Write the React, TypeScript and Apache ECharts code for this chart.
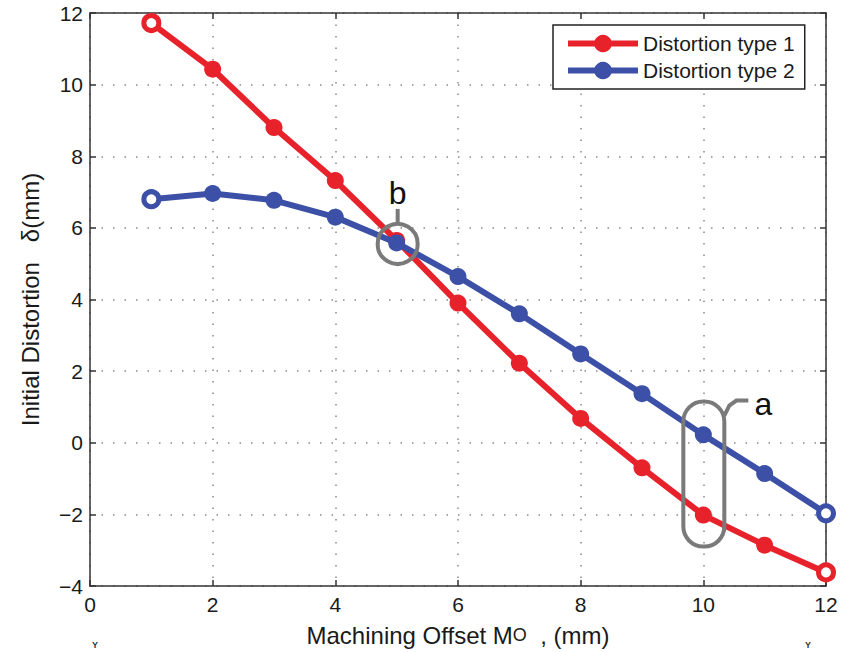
import React, { useEffect, useRef } from "react";
import * as echarts from "echarts";

const offsets = [1, 2, 3, 4, 5, 6, 7, 8, 9, 10, 11, 12];
const type1 = [11.72, 10.43, 8.8, 7.32, 5.65, 3.9, 2.22, 0.68, -0.7, -2.02, -2.86, -3.62];
const type2 = [6.8, 6.96, 6.77, 6.3, 5.58, 4.64, 3.6, 2.48, 1.37, 0.22, -0.86, -1.97];
const seriesNames = ["Distortion type 1", "Distortion type 2"];
const RED = "#e8222b";
const BLUE = "#3b50a6";

function toData(vals: number[], color: string) {
  return offsets.map((x, i) => {
    const hollow = i === 0 || i === offsets.length - 1;
    return hollow
      ? { value: [x, vals[i]], symbolSize: 15, itemStyle: { color: "#ffffff", borderColor: color, borderWidth: 5 } }
      : { value: [x, vals[i]] };
  });
}

export default function App() {
  const ref = useRef<HTMLDivElement>(null);
  useEffect(() => {
    if (!ref.current) return;
    const chart = echarts.init(ref.current, null, { renderer: "svg" });
    const font = "Liberation Sans, Arial, sans-serif";
    const minus = (v: number) => String(v).replace("-", "\u2212");
    const axisLine = { show: true, onZero: false, lineStyle: { color: "#333", width: 1.5 } };
    const tickIn = { show: true, inside: true, length: 6, lineStyle: { color: "#333", width: 1.5 } };
    chart.setOption({
      animation: false,
      backgroundColor: "#ffffff",
      textStyle: { fontFamily: font },
      grid: { left: 90, right: 17, top: 13, bottom: 65, show: false },
      legend: {
        orient: "vertical",
        left: 553,
        top: 25,
        data: seriesNames,
        backgroundColor: "#ffffff",
        borderColor: "#222",
        borderWidth: 1.5,
        borderRadius: 0,
        padding: [8, 10, 8, 12],
        itemWidth: 70,
        itemHeight: 22,
        itemGap: 6,
        lineStyle: { width: 6 },
        textStyle: { fontSize: 21, color: "#1a1a1a", fontFamily: font },
      },
      xAxis: [
        {
          type: "value",
          min: 0,
          max: 12,
          interval: 2,
          position: "bottom",
          axisLine,
          axisTick: tickIn,
          axisLabel: { fontSize: 21, color: "#1a1a1a", margin: 8, formatter: minus },
          splitLine: { show: true, lineStyle: { color: "#8a8a8a", type: [1.5, 10], width: 1.5 } },
          name: "{a|Machining Offset M}{b|O}{a|  , (mm)}",
          nameLocation: "middle",
          nameGap: 37,
          nameTextStyle: {
            rich: {
              a: { fontSize: 24, color: "#1a1a1a", fontFamily: font },
              b: { fontSize: 18, color: "#1a1a1a", fontFamily: font },
            },
          },
        },
        {
          type: "value",
          min: 0,
          max: 12,
          interval: 2,
          position: "top",
          axisLine,
          axisTick: tickIn,
          axisLabel: { show: false },
          splitLine: { show: false },
        },
      ],
      yAxis: [
        {
          type: "value",
          min: -4,
          max: 12,
          interval: 2,
          position: "left",
          axisLine,
          axisTick: tickIn,
          axisLabel: { fontSize: 21, color: "#1a1a1a", margin: 7, formatter: minus },
          splitLine: { show: true, lineStyle: { color: "#8a8a8a", type: [1.5, 10], width: 1.5 } },
          name: "Initial Distortion   \u03b4(mm)",
          nameLocation: "middle",
          nameGap: 48,
          nameTextStyle: { fontSize: 24, color: "#1a1a1a", fontFamily: font },
        },
        {
          type: "value",
          min: -4,
          max: 12,
          interval: 2,
          position: "right",
          axisLine,
          axisTick: tickIn,
          axisLabel: { show: false },
          splitLine: { show: false },
        },
      ],
      series: [
        {
          name: seriesNames[0],
          type: "line",
          data: toData(type1, RED),
          symbol: "circle",
          symbolSize: 17,
          lineStyle: { color: RED, width: 6 },
          itemStyle: { color: RED },
          z: 2,
        },
        {
          name: seriesNames[1],
          type: "line",
          data: toData(type2, BLUE),
          symbol: "circle",
          symbolSize: 17,
          lineStyle: { color: BLUE, width: 6 },
          itemStyle: { color: BLUE },
          z: 3,
        },
      ],
    });

    const pb = chart.convertToPixel({ gridIndex: 0 }, [5, type2[4]]) as number[];
    const aTop = chart.convertToPixel({ gridIndex: 0 }, [10, 1.15]) as number[];
    const aBot = chart.convertToPixel({ gridIndex: 0 }, [10, -2.9]) as number[];
    const gray = "#7a7a7a";
    const rx = aTop[0] - 20;
    const rw = 41;
    chart.setOption({
      graphic: [
        { type: "circle", shape: { cx: pb[0] + 1, cy: pb[1] + 1, r: 20 }, style: { fill: "none", stroke: gray, lineWidth: 4 }, z: 10 },
        { type: "line", shape: { x1: pb[0] + 1, y1: pb[1] - 19, x2: pb[0] + 1, y2: pb[1] - 34 }, style: { stroke: gray, lineWidth: 4 }, z: 10 },
        { type: "text", x: pb[0] + 1, y: pb[1] - 50, style: { text: "b", fontSize: 32, fill: "#111", align: "center", verticalAlign: "middle", fontFamily: font }, z: 10 },
        { type: "rect", shape: { x: rx, y: aTop[1], width: rw, height: aBot[1] - aTop[1], r: 20 }, style: { fill: "none", stroke: gray, lineWidth: 4 }, z: 10 },
        { type: "polyline", shape: { points: [[rx + rw, aTop[1] + 14], [rx + rw + 5, aTop[1] + 4], [rx + rw + 12, aTop[1] - 1], [rx + rw + 24, aTop[1] - 1]] }, style: { stroke: gray, lineWidth: 4, fill: "none" }, z: 10 },
        { type: "text", x: rx + rw + 39, y: aTop[1] + 2, style: { text: "a", fontSize: 32, fill: "#111", align: "center", verticalAlign: "middle", fontFamily: font }, z: 10 },
        { type: "text", x: 95, y: 645, style: { text: "Y", fontSize: 9, fill: "#333", align: "center", verticalAlign: "middle", fontFamily: font, fontWeight: "bold" } },
        { type: "text", x: 808, y: 645, style: { text: "Y", fontSize: 9, fill: "#333", align: "center", verticalAlign: "middle", fontFamily: font, fontWeight: "bold" } },
      ],
    });
    return () => chart.dispose();
  }, []);
  return <div ref={ref} style={{ position: "fixed", left: 0, top: 0, width: 843, height: 652 }} />;
}
